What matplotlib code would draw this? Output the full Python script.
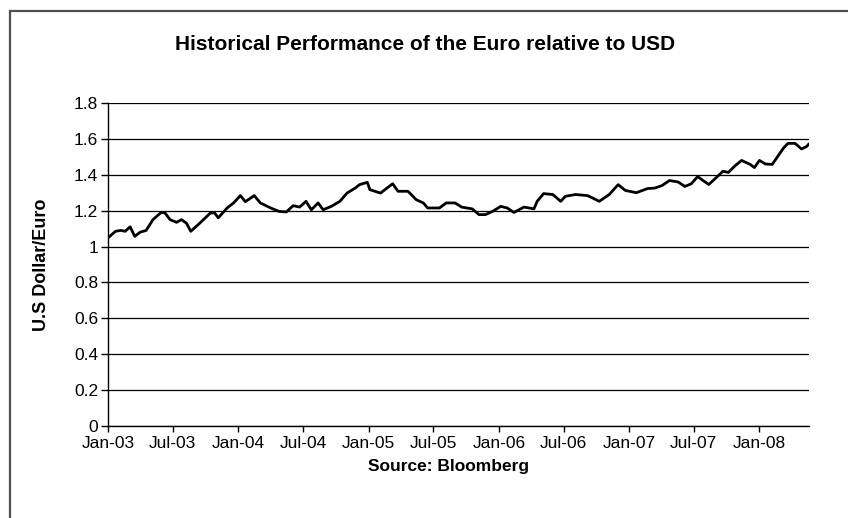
import numpy as np
import pandas as pd
import matplotlib
matplotlib.use("Agg")
import matplotlib.pyplot as plt
import matplotlib.dates as mdates
from matplotlib.patches import Rectangle

plt.rcParams['font.family'] = ['Liberation Sans', 'DejaVu Sans']

# EUR/USD
dates = ["2003-01-02", "2003-01-22", "2003-02-06", "2003-02-18", "2003-03-04", "2003-03-17",
         "2003-04-01", "2003-04-18", "2003-05-07", "2003-05-30", "2003-06-10", "2003-06-24",
         "2003-07-12", "2003-07-26", "2003-08-09", "2003-08-21", "2003-09-15", "2003-10-15",
         "2003-10-27", "2003-11-06", "2003-12-01", "2003-12-19", "2004-01-07", "2004-01-21",
         "2004-02-15", "2004-03-03", "2004-04-01", "2004-04-24", "2004-05-15", "2004-06-03",
         "2004-06-21", "2004-07-09", "2004-07-24", "2004-08-12", "2004-08-26", "2004-09-18",
         "2004-10-12", "2004-11-01", "2004-11-24", "2004-12-06", "2004-12-28", "2005-01-04",
         "2005-02-03", "2005-02-21", "2005-03-09", "2005-03-24", "2005-04-21", "2005-05-14",
         "2005-06-03", "2005-06-15", "2005-07-18", "2005-08-06", "2005-08-31", "2005-09-12",
         "2005-09-18", "2005-10-18", "2005-11-06", "2005-11-24", "2005-12-14", "2006-01-06",
         "2006-01-24", "2006-02-12", "2006-03-12", "2006-04-09", "2006-04-18", "2006-05-06",
         "2006-06-01", "2006-06-23", "2006-07-06", "2006-08-03", "2006-09-06", "2006-09-21",
         "2006-10-09", "2006-11-06", "2006-12-01", "2006-12-21", "2007-01-21", "2007-02-21",
         "2007-03-14", "2007-04-03", "2007-04-24", "2007-05-18", "2007-06-06", "2007-06-24",
         "2007-07-12", "2007-07-27", "2007-08-12", "2007-09-03", "2007-09-21", "2007-10-06",
         "2007-10-24", "2007-11-12", "2007-12-06", "2007-12-18", "2008-01-01", "2008-01-18",
         "2008-02-06", "2008-02-24", "2008-03-09", "2008-03-21", "2008-04-10", "2008-04-28",
         "2008-05-12", "2008-05-18"]
rate = [1.050, 1.085, 1.090, 1.085, 1.110, 1.057,
        1.080, 1.090, 1.150, 1.190, 1.187, 1.150,
        1.135, 1.150, 1.130, 1.085, 1.130, 1.187,
        1.187, 1.160, 1.215, 1.243, 1.284, 1.250,
        1.284, 1.243, 1.215, 1.196, 1.193, 1.228,
        1.220, 1.252, 1.205, 1.243, 1.205, 1.224,
        1.252, 1.298, 1.326, 1.345, 1.358, 1.317,
        1.298, 1.326, 1.350, 1.308, 1.308, 1.261,
        1.243, 1.215, 1.215, 1.243, 1.243, 1.228,
        1.220, 1.210, 1.178, 1.178, 1.196, 1.224,
        1.215, 1.190, 1.220, 1.210, 1.252, 1.295,
        1.290, 1.252, 1.280, 1.290, 1.284, 1.270,
        1.252, 1.290, 1.345, 1.313, 1.300, 1.323,
        1.326, 1.340, 1.368, 1.360, 1.335, 1.350,
        1.390, 1.368, 1.346, 1.386, 1.420, 1.413,
        1.449, 1.480, 1.458, 1.440, 1.480, 1.460,
        1.458, 1.510, 1.550, 1.575, 1.575, 1.544,
        1.557, 1.570]
y_ticks = [0, 0.2, 0.4, 0.6, 0.8, 1, 1.2, 1.4, 1.6, 1.8]
y_labels = ['0', '0.2', '0.4', '0.6', '0.8', '1', '1.2', '1.4', '1.6', '1.8']

x = pd.to_datetime(dates)

fig = plt.figure(figsize=(8.48, 5.18), dpi=100)
ax = fig.add_axes([108/848, 1-426/518, 701/848, 323/518])

# outer chart border (cut off on the right and bottom)
fig.patches.append(Rectangle((9.5/848, -0.1), 1.0, 1-11.5/518+0.1, transform=fig.transFigure,
                             fill=False, edgecolor='#505050', linewidth=1.6))

ax.plot(x, rate, color='black', linewidth=2.0, zorder=3)

ax.set_ylim(0, 1.8)
ax.set_yticks(y_ticks)
ax.set_yticklabels(y_labels)
ax.set_xlim(pd.Timestamp("2003-01-01"), pd.Timestamp("2008-05-19"))
ax.xaxis.set_major_locator(mdates.MonthLocator(bymonth=[1, 7]))
ax.xaxis.set_major_formatter(mdates.DateFormatter('%b-%y'))

ax.grid(axis='y', color='black', linewidth=0.9)
ax.set_axisbelow(True)
for s in ['top', 'right']:
    ax.spines[s].set_visible(False)
ax.spines['left'].set_linewidth(1.0)
ax.spines['bottom'].set_linewidth(1.0)
ax.tick_params(axis='y', direction='out', length=5, width=1, labelsize=12.5, pad=2)
ax.tick_params(axis='x', direction='out', length=4, width=1, labelsize=12.5, pad=3)

fig.text(425/848, 1-45/518, 'Historical Performance of the Euro relative to USD',
         ha='center', va='center', fontsize=15, fontweight='bold')
fig.text(42/848, 1-265/518, 'U.S Dollar/Euro', rotation=90,
         ha='center', va='center', fontsize=13, fontweight='bold')
fig.text(449/848, 1-466/518, 'Source: Bloomberg',
         ha='center', va='center', fontsize=12.5, fontweight='bold')

plt.savefig('out.png', dpi=100)
